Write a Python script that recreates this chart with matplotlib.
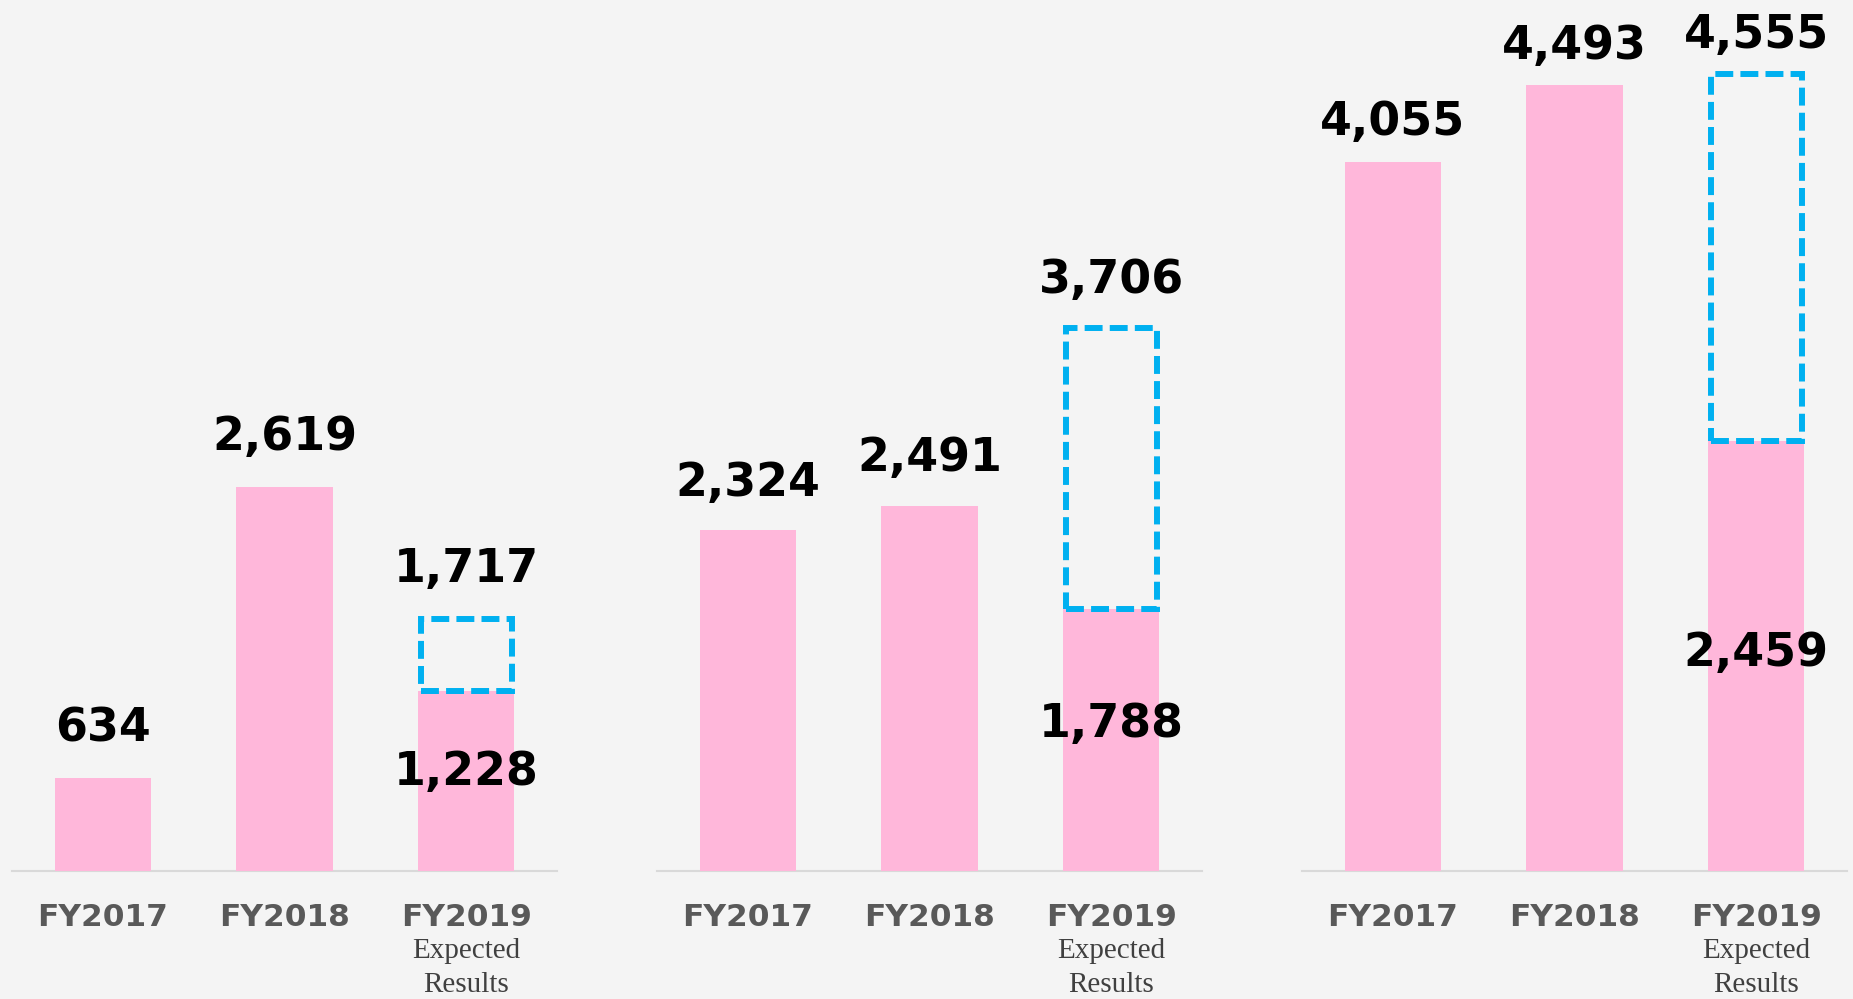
import matplotlib.pyplot as plt

# data (three panels, same categories)
categories = ["FY2017", "FY2018", "FY2019"]
panel1_values = [634, 2619, 1228]
panel2_values = [2324, 2491, 1788]
panel3_values = [4055, 4493, 2459]
panel1_expected = 1717
panel2_expected = 3706
panel3_expected = 4555
sub_label = "Expected\nResults"

BG = "#F4F4F4"
PINK = "#FFB7DA"
CYAN = "#00B0F0"

fig = plt.figure(figsize=(18.53, 9.99), dpi=100, facecolor=BG)

# values, forecast, y max, left edge (px), inner label height as fraction of bar, label offset
panels = [
    (panel1_values, panel1_expected, 5940, 12, 0.545, 26.5),
    (panel2_values, panel2_expected, 5940, 657, 0.56, 25),
    (panel3_values, panel3_expected, 4980, 1302, 0.505, 19),
]

for values, expected, ymax, left_px, frac, off in panels:
    ax = fig.add_axes([left_px / 1853, 128 / 999, 545 / 1853, 871 / 999])
    ax.set_facecolor(BG)
    x = range(len(categories))
    ax.bar(x, values, width=0.53, color=PINK, zorder=3)
    # dashed outline for the forecast
    ax.bar(2, expected - values[2], bottom=values[2], width=0.50, fill=False,
           edgecolor=CYAN, linewidth=4.3, linestyle=(0, (3, 1.2)), zorder=4)
    ax.set_xlim(-0.5, 2.5)
    ax.set_ylim(0, ymax)

    # value labels
    for i in range(2):
        ax.annotate(f"{values[i]:,}", (i, values[i]), xytext=(0, off),
                    textcoords="offset points", ha="center", va="baseline",
                    fontsize=33, fontweight="bold", color="black",
                    annotation_clip=False)
    ax.annotate(f"{expected:,}", (2, expected), xytext=(0, off),
                textcoords="offset points", ha="center", va="baseline",
                fontsize=33, fontweight="bold", color="black",
                annotation_clip=False)
    ax.text(2, values[2] * frac, f"{values[2]:,}", ha="center", va="center",
            fontsize=33, fontweight="bold", color="black", zorder=5)

    for s in ["top", "left", "right"]:
        ax.spines[s].set_visible(False)
    ax.spines["bottom"].set_color("#D9D9D9")
    ax.spines["bottom"].set_linewidth(1.5)
    ax.set_yticks([])
    ax.set_xticks(list(x), categories)
    ax.tick_params(axis="x", length=0, pad=23, labelsize=22.5, labelcolor="#595959")
    for lbl in ax.get_xticklabels():
        lbl.set_fontweight("bold")

    ax.annotate(sub_label, (2, 0), xytext=(0, -48), textcoords="offset points",
                ha="center", va="top", fontsize=21, family="Liberation Serif",
                color="#404040", linespacing=1.42, annotation_clip=False)

fig.savefig("out.png", dpi=100, facecolor=BG)
